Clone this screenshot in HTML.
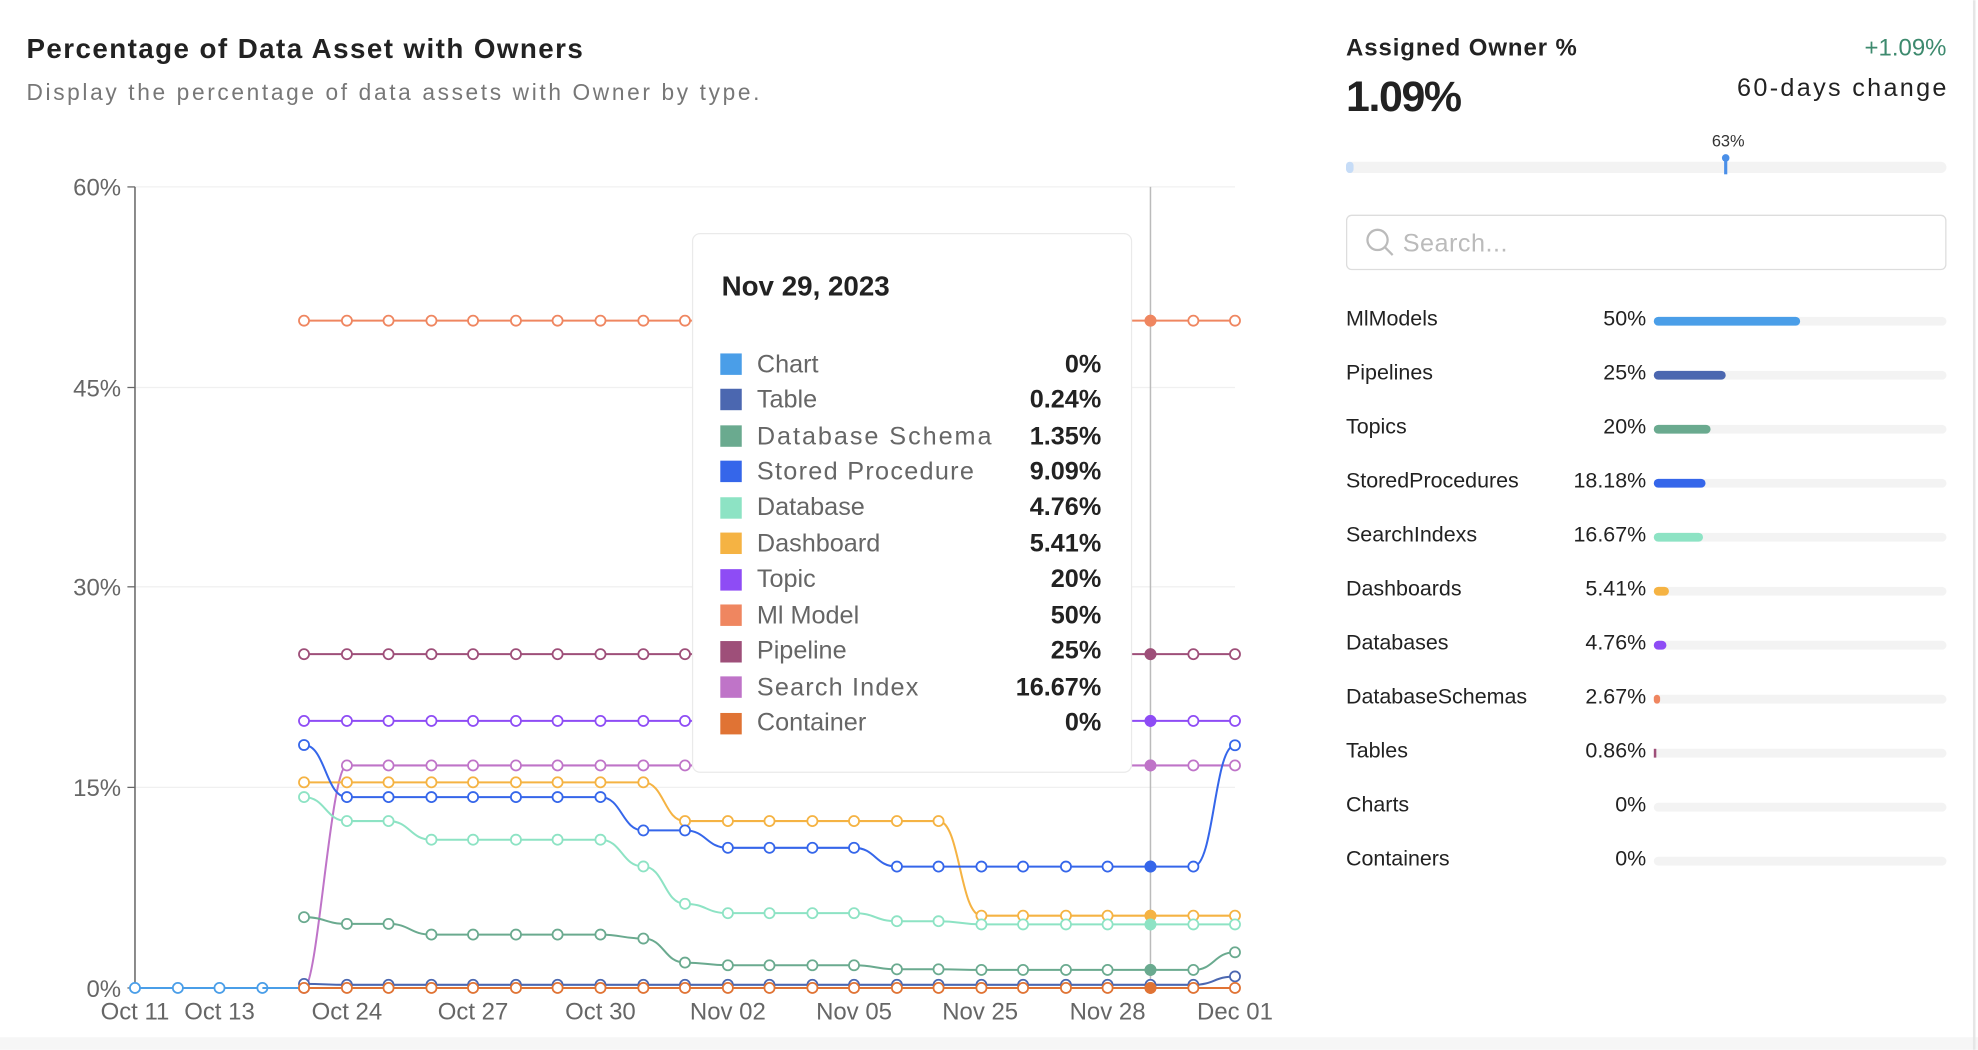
<!DOCTYPE html>
<html><head><meta charset="utf-8"><style>
html,body{margin:0;padding:0;background:#fff;}
svg{display:block;font-family:"Liberation Sans",sans-serif;}
</style></head><body>
<svg width="1978" height="1050" viewBox="0 0 1568 832" xmlns="http://www.w3.org/2000/svg">
<defs>
<marker id="m1" markerWidth="10" markerHeight="10" refX="5" refY="5" markerUnits="userSpaceOnUse"><circle cx="5" cy="5" r="4" fill="#fff" stroke="#e07334" stroke-width="1.4"/></marker>
<marker id="m2" markerWidth="10" markerHeight="10" refX="5" refY="5" markerUnits="userSpaceOnUse"><circle cx="5" cy="5" r="4" fill="#fff" stroke="#4a9ee8" stroke-width="1.4"/></marker>
<marker id="m3" markerWidth="10" markerHeight="10" refX="5" refY="5" markerUnits="userSpaceOnUse"><circle cx="5" cy="5" r="4" fill="#fff" stroke="#4b67b0" stroke-width="1.4"/></marker>
<marker id="m4" markerWidth="10" markerHeight="10" refX="5" refY="5" markerUnits="userSpaceOnUse"><circle cx="5" cy="5" r="4" fill="#fff" stroke="#6aaa8f" stroke-width="1.4"/></marker>
<marker id="m5" markerWidth="10" markerHeight="10" refX="5" refY="5" markerUnits="userSpaceOnUse"><circle cx="5" cy="5" r="4" fill="#fff" stroke="#8de3c4" stroke-width="1.4"/></marker>
<marker id="m6" markerWidth="10" markerHeight="10" refX="5" refY="5" markerUnits="userSpaceOnUse"><circle cx="5" cy="5" r="4" fill="#fff" stroke="#3566ea" stroke-width="1.4"/></marker>
<marker id="m7" markerWidth="10" markerHeight="10" refX="5" refY="5" markerUnits="userSpaceOnUse"><circle cx="5" cy="5" r="4" fill="#fff" stroke="#f5b343" stroke-width="1.4"/></marker>
<marker id="m8" markerWidth="10" markerHeight="10" refX="5" refY="5" markerUnits="userSpaceOnUse"><circle cx="5" cy="5" r="4" fill="#fff" stroke="#bf74c8" stroke-width="1.4"/></marker>
<marker id="m9" markerWidth="10" markerHeight="10" refX="5" refY="5" markerUnits="userSpaceOnUse"><circle cx="5" cy="5" r="4" fill="#fff" stroke="#8e4cf5" stroke-width="1.4"/></marker>
<marker id="m10" markerWidth="10" markerHeight="10" refX="5" refY="5" markerUnits="userSpaceOnUse"><circle cx="5" cy="5" r="4" fill="#fff" stroke="#9e4f79" stroke-width="1.4"/></marker>
<marker id="m11" markerWidth="10" markerHeight="10" refX="5" refY="5" markerUnits="userSpaceOnUse"><circle cx="5" cy="5" r="4" fill="#fff" stroke="#ef8660" stroke-width="1.4"/></marker>
</defs>
<rect width="1568" height="832" fill="#fff"/>
<rect x="0" y="822" width="1568" height="10" fill="#f6f6f6"/>
<line x1="1565" y1="0" x2="1565" y2="832" stroke="#e6e6e6" stroke-width="2"/>
<text x="21" y="46" font-size="22" font-weight="bold" fill="#222" textLength="441">Percentage of Data Asset with Owners</text>
<text x="21" y="79" font-size="18" fill="#777" textLength="581">Display the percentage of data assets with Owner by type.</text>
<g font-size="19" fill="#666">
<line x1="107" y1="148" x2="979" y2="148" stroke="#f0f0f0"/>
<line x1="107" y1="307" x2="979" y2="307" stroke="#f0f0f0"/>
<line x1="107" y1="465" x2="979" y2="465" stroke="#f0f0f0"/>
<line x1="107" y1="624" x2="979" y2="624" stroke="#f0f0f0"/>
<text x="96" y="155" text-anchor="end">60%</text>
<text x="96" y="314" text-anchor="end">45%</text>
<text x="96" y="472" text-anchor="end">30%</text>
<text x="96" y="631" text-anchor="end">15%</text>
<text x="96" y="790" text-anchor="end">0%</text>
<line x1="107" y1="148" x2="107" y2="783" stroke="#666" stroke-width="1.2"/>
<line x1="101" y1="148" x2="107" y2="148" stroke="#666"/><line x1="101" y1="307" x2="107" y2="307" stroke="#666"/><line x1="101" y1="465" x2="107" y2="465" stroke="#666"/><line x1="101" y1="624" x2="107" y2="624" stroke="#666"/><line x1="101" y1="783" x2="107" y2="783" stroke="#666"/>
<line x1="107" y1="783" x2="979" y2="783" stroke="#666" stroke-width="1.2"/>
<text x="107" y="808" text-anchor="middle">Oct 11</text>
<text x="174" y="808" text-anchor="middle">Oct 13</text>
<text x="275" y="808" text-anchor="middle">Oct 24</text>
<text x="375" y="808" text-anchor="middle">Oct 27</text>
<text x="476" y="808" text-anchor="middle">Oct 30</text>
<text x="577" y="808" text-anchor="middle">Nov 02</text>
<text x="677" y="808" text-anchor="middle">Nov 05</text>
<text x="777" y="808" text-anchor="middle">Nov 25</text>
<text x="878" y="808" text-anchor="middle">Nov 28</text>
<text x="979" y="808" text-anchor="middle">Dec 01</text>
<line x1="912" y1="148" x2="912" y2="783" stroke="#bbb" stroke-width="1.2"/>
</g>
<g fill="none" stroke-width="1.6">
<polyline stroke="#ef8660" marker-start="url(#m11)" marker-mid="url(#m11)" marker-end="url(#m11)" points="241,254 275,254 308,254 342,254 375,254 409,254 442,254 476,254 510,254 543,254 577,254 610,254 644,254 677,254 711,254 744,254 778,254 811,254 845,254 878,254 912,254 946,254 979,254"/>
<polyline stroke="#9e4f79" marker-start="url(#m10)" marker-mid="url(#m10)" marker-end="url(#m10)" points="241,518.4 275,518.4 308,518.4 342,518.4 375,518.4 409,518.4 442,518.4 476,518.4 510,518.4 543,518.4 577,518.4 610,518.4 644,518.4 677,518.4 711,518.4 744,518.4 778,518.4 811,518.4 845,518.4 878,518.4 912,518.4 946,518.4 979,518.4"/>
<polyline stroke="#8e4cf5" marker-start="url(#m9)" marker-mid="url(#m9)" marker-end="url(#m9)" points="241,571.3 275,571.3 308,571.3 342,571.3 375,571.3 409,571.3 442,571.3 476,571.3 510,571.3 543,571.3 577,571.3 610,571.3 644,571.3 677,571.3 711,571.3 744,571.3 778,571.3 811,571.3 845,571.3 878,571.3 912,571.3 946,571.3 979,571.3"/>
<path stroke="#bf74c8" marker-start="url(#m8)" marker-mid="url(#m8)" marker-end="url(#m8)" d="M241,783 C252,783 262,606.6 275,606.6 L308,606.6 L342,606.6 L375,606.6 L409,606.6 L442,606.6 L476,606.6 L510,606.6 L543,606.6 L577,606.6 L610,606.6 L644,606.6 L677,606.6 L711,606.6 L744,606.6 L778,606.6 L811,606.6 L845,606.6 L878,606.6 L912,606.6 L946,606.6 L979,606.6"/>
<path stroke="#f5b343" marker-start="url(#m7)" marker-mid="url(#m7)" marker-end="url(#m7)" d="M241,620 L275,620 L308,620 L342,620 L375,620 L409,620 L442,620 L476,620 L510,620 C526.5,620 526.5,650.7 543,650.7 L577,650.7 L610,650.7 L644,650.7 L677,650.7 L711,650.7 L744,650.7 C761,650.7 761,725.7 778,725.7 L811,725.7 L845,725.7 L878,725.7 L912,725.7 L946,725.7 L979,725.7"/>
<path stroke="#3566ea" marker-start="url(#m6)" marker-mid="url(#m6)" marker-end="url(#m6)" d="M241,590.4 C258,590.4 258,631.7 275,631.7 L308,631.7 L342,631.7 L375,631.7 L409,631.7 L442,631.7 L476,631.7 C493,631.7 493,658.1 510,658.1 L543,658.1 C560,658.1 560,671.9 577,671.9 L610,671.9 L644,671.9 L677,671.9 C694,671.9 694,686.8 711,686.8 L744,686.8 L778,686.8 L811,686.8 L845,686.8 L878,686.8 L912,686.8 L946,686.8 C962.5,686.8 962.5,590.6 979,590.6"/>
<path stroke="#8de3c4" marker-start="url(#m5)" marker-mid="url(#m5)" marker-end="url(#m5)" d="M241,631.7 C258,631.7 258,650.7 275,650.7 L308,650.7 C325,650.7 325,665.5 342,665.5 L375,665.5 L409,665.5 L442,665.5 L476,665.5 C493,665.5 493,686.7 510,686.7 C526.5,686.7 526.5,716.3 543,716.3 C560,716.3 560,723.7 577,723.7 L610,723.7 L644,723.7 L677,723.7 C694,723.7 694,730.1 711,730.1 L744,730.1 C761,730.1 761,732.6 778,732.6 L811,732.6 L845,732.6 L878,732.6 L912,732.6 L946,732.6 L979,732.6"/>
<path stroke="#6aaa8f" marker-start="url(#m4)" marker-mid="url(#m4)" marker-end="url(#m4)" d="M241,726.9 C258,726.9 258,732.2 275,732.2 L308,732.2 C325,732.2 325,740.7 342,740.7 L375,740.7 L409,740.7 L442,740.7 L476,740.7 C493,740.7 493,743.8 510,743.8 C526.5,743.8 526.5,762.9 543,762.9 C560,762.9 560,765 577,765 L610,765 L644,765 L677,765 C694,765 694,768.2 711,768.2 L744,768.2 C761,768.2 761,768.7 778,768.7 L811,768.7 L845,768.7 L878,768.7 L912,768.7 L946,768.7 C962.5,768.7 962.5,754.7 979,754.7"/>
<path stroke="#4b67b0" marker-start="url(#m3)" marker-mid="url(#m3)" marker-end="url(#m3)" d="M241,779.8 C258,779.8 258,780.5 275,780.5 L308,780.5 L342,780.5 L375,780.5 L409,780.5 L442,780.5 L476,780.5 L510,780.5 L543,780.5 L577,780.5 L610,780.5 L644,780.5 L677,780.5 L711,780.5 L744,780.5 L778,780.5 L811,780.5 L845,780.5 L878,780.5 L912,780.5 L946,780.5 C962.5,780.5 962.5,773.9 979,773.9"/>
<polyline stroke="#4a9ee8" marker-start="url(#m2)" marker-mid="url(#m2)" marker-end="url(#m2)" points="107,783 141,783 174,783 208,783"/>
<line x1="208" y1="783" x2="241" y2="783" stroke="#4a9ee8"/>
<polyline stroke="#e07334" marker-start="url(#m1)" marker-mid="url(#m1)" marker-end="url(#m1)" points="241,783 275,783 308,783 342,783 375,783 409,783 442,783 476,783 510,783 543,783 577,783 610,783 644,783 677,783 711,783 744,783 778,783 811,783 845,783 878,783 912,783 946,783 979,783"/>
</g>
<g stroke-width="1.4">
<circle cx="912" cy="254" r="4" fill="#ef8660" stroke="#ef8660"/>
<circle cx="912" cy="518.4" r="4" fill="#9e4f79" stroke="#9e4f79"/>
<circle cx="912" cy="571.3" r="4" fill="#8e4cf5" stroke="#8e4cf5"/>
<circle cx="912" cy="606.6" r="4" fill="#bf74c8" stroke="#bf74c8"/>
<circle cx="912" cy="686.8" r="4" fill="#3566ea" stroke="#3566ea"/>
<circle cx="912" cy="725.7" r="4" fill="#f5b343" stroke="#f5b343"/>
<circle cx="912" cy="732.6" r="4" fill="#8de3c4" stroke="#8de3c4"/>
<circle cx="912" cy="768.7" r="4" fill="#6aaa8f" stroke="#6aaa8f"/>
<circle cx="912" cy="783" r="4" fill="#e07334" stroke="#e07334"/>
</g>
<g>
<rect x="549" y="185" width="348" height="427" rx="6" fill="#fff" stroke="#eaeaea"/>
<text x="572" y="234" font-size="22" font-weight="bold" fill="#222">Nov 29, 2023</text>
<g font-size="20" fill="#666">
<rect x="571" y="280" width="17" height="17" fill="#4a9ee8"/><text x="600" y="295">Chart</text><text x="873" y="295" text-anchor="end" font-weight="bold" fill="#222">0%</text>
<rect x="571" y="308" width="17" height="17" fill="#4b67b0"/><text x="600" y="323">Table</text><text x="873" y="323" text-anchor="end" font-weight="bold" fill="#222">0.24%</text>
<rect x="571" y="337" width="17" height="17" fill="#6aaa8f"/><text x="600" y="352" textLength="186">Database Schema</text><text x="873" y="352" text-anchor="end" font-weight="bold" fill="#222">1.35%</text>
<rect x="571" y="365" width="17" height="17" fill="#3566ea"/><text x="600" y="380" textLength="172">Stored Procedure</text><text x="873" y="380" text-anchor="end" font-weight="bold" fill="#222">9.09%</text>
<rect x="571" y="394" width="17" height="17" fill="#8de3c4"/><text x="600" y="408">Database</text><text x="873" y="408" text-anchor="end" font-weight="bold" fill="#222">4.76%</text>
<rect x="571" y="422" width="17" height="17" fill="#f5b343"/><text x="600" y="437">Dashboard</text><text x="873" y="437" text-anchor="end" font-weight="bold" fill="#222">5.41%</text>
<rect x="571" y="451" width="17" height="17" fill="#8e4cf5"/><text x="600" y="465">Topic</text><text x="873" y="465" text-anchor="end" font-weight="bold" fill="#222">20%</text>
<rect x="571" y="479" width="17" height="17" fill="#ef8660"/><text x="600" y="494">Ml Model</text><text x="873" y="494" text-anchor="end" font-weight="bold" fill="#222">50%</text>
<rect x="571" y="508" width="17" height="17" fill="#9e4f79"/><text x="600" y="522">Pipeline</text><text x="873" y="522" text-anchor="end" font-weight="bold" fill="#222">25%</text>
<rect x="571" y="536" width="17" height="17" fill="#bf74c8"/><text x="600" y="551" textLength="128">Search Index</text><text x="873" y="551" text-anchor="end" font-weight="bold" fill="#222">16.67%</text>
<rect x="571" y="565" width="17" height="17" fill="#e07334"/><text x="600" y="579">Container</text><text x="873" y="579" text-anchor="end" font-weight="bold" fill="#222">0%</text>
</g></g>
<g>
<text x="1067" y="44" font-size="19" font-weight="bold" fill="#222" textLength="183">Assigned Owner %</text>
<text x="1543" y="44" font-size="19" text-anchor="end" fill="#3d8a6e">+1.09%</text>
<text x="1067" y="88" font-size="34" font-weight="bold" fill="#222" textLength="92">1.09%</text>
<text x="1543" y="76" font-size="20" text-anchor="end" fill="#222" textLength="166">60-days change</text>
<rect x="1067" y="128" width="476" height="9" rx="4.5" fill="#f3f3f3"/>
<rect x="1067" y="128" width="6" height="9" rx="3" fill="#c6dcf7"/>
<text x="1370" y="116" font-size="13" text-anchor="middle" fill="#333">63%</text>
<line x1="1368" y1="125" x2="1368" y2="138" stroke="#4a8fe8" stroke-width="2.5"/>
<circle cx="1368" cy="125" r="3" fill="#4a8fe8"/>
<rect x="1067.5" y="170.5" width="475" height="43" rx="4" fill="#fff" stroke="#ddd"/>
<circle cx="1092" cy="190" r="8" fill="none" stroke="#bbb" stroke-width="1.8"/>
<line x1="1098" y1="196" x2="1104" y2="202" stroke="#bbb" stroke-width="1.8"/>
<text x="1112" y="199" font-size="20" fill="#bbb" textLength="83">Search...</text>
<g font-size="17" fill="#222">
<text x="1067" y="258">MlModels</text><text x="1305" y="258" text-anchor="end">50%</text>
<rect x="1311" y="251" width="232" height="7" rx="3.5" fill="#f3f3f3"/><rect x="1311" y="251" width="116" height="7" rx="3.5" fill="#4a9ee8"/>
<text x="1067" y="300.8">Pipelines</text><text x="1305" y="300.8" text-anchor="end">25%</text>
<rect x="1311" y="293.8" width="232" height="7" rx="3.5" fill="#f3f3f3"/><rect x="1311" y="293.8" width="57" height="7" rx="3.5" fill="#4b67b0"/>
<text x="1067" y="343.6">Topics</text><text x="1305" y="343.6" text-anchor="end">20%</text>
<rect x="1311" y="336.6" width="232" height="7" rx="3.5" fill="#f3f3f3"/><rect x="1311" y="336.6" width="45" height="7" rx="3.5" fill="#6aaa8f"/>
<text x="1067" y="386.4">StoredProcedures</text><text x="1305" y="386.4" text-anchor="end">18.18%</text>
<rect x="1311" y="379.4" width="232" height="7" rx="3.5" fill="#f3f3f3"/><rect x="1311" y="379.4" width="41" height="7" rx="3.5" fill="#3566ea"/>
<text x="1067" y="429.2">SearchIndexs</text><text x="1305" y="429.2" text-anchor="end">16.67%</text>
<rect x="1311" y="422.2" width="232" height="7" rx="3.5" fill="#f3f3f3"/><rect x="1311" y="422.2" width="39" height="7" rx="3.5" fill="#8de3c4"/>
<text x="1067" y="472">Dashboards</text><text x="1305" y="472" text-anchor="end">5.41%</text>
<rect x="1311" y="465" width="232" height="7" rx="3.5" fill="#f3f3f3"/><rect x="1311" y="465" width="12" height="7" rx="3.5" fill="#f5b343"/>
<text x="1067" y="514.8">Databases</text><text x="1305" y="514.8" text-anchor="end">4.76%</text>
<rect x="1311" y="507.8" width="232" height="7" rx="3.5" fill="#f3f3f3"/><rect x="1311" y="507.8" width="10" height="7" rx="3.5" fill="#8e4cf5"/>
<text x="1067" y="557.6">DatabaseSchemas</text><text x="1305" y="557.6" text-anchor="end">2.67%</text>
<rect x="1311" y="550.6" width="232" height="7" rx="3.5" fill="#f3f3f3"/><rect x="1311" y="550.6" width="5" height="7" rx="2.5" fill="#ef8660"/>
<text x="1067" y="600.4">Tables</text><text x="1305" y="600.4" text-anchor="end">0.86%</text>
<rect x="1311" y="593.4" width="232" height="7" rx="3.5" fill="#f3f3f3"/><rect x="1311" y="593.4" width="2" height="7" fill="#9e4f79"/>
<text x="1067" y="643.2">Charts</text><text x="1305" y="643.2" text-anchor="end">0%</text>
<rect x="1311" y="636.2" width="232" height="7" rx="3.5" fill="#f3f3f3"/>
<text x="1067" y="686">Containers</text><text x="1305" y="686" text-anchor="end">0%</text>
<rect x="1311" y="679" width="232" height="7" rx="3.5" fill="#f3f3f3"/>
</g></g>
</svg>
</body></html>
